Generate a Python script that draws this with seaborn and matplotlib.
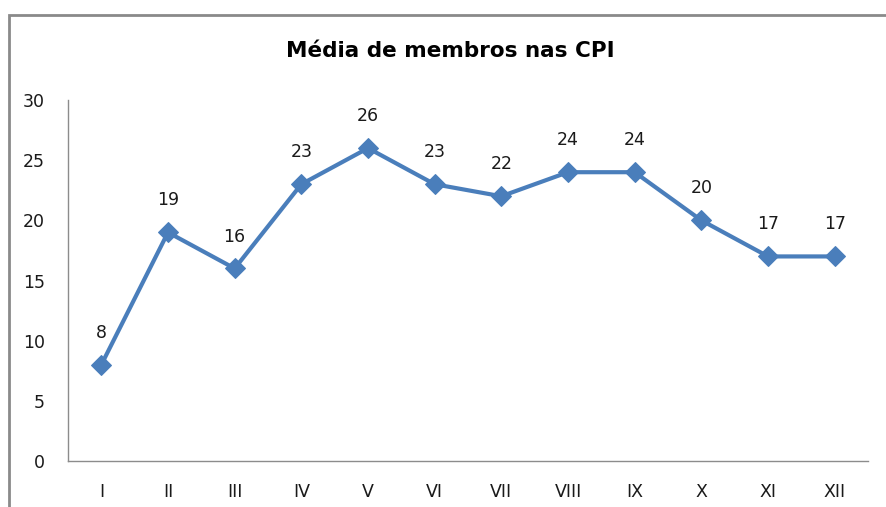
import matplotlib
matplotlib.use("Agg")
import matplotlib.pyplot as plt
import seaborn as sns
import pandas as pd
from matplotlib.patches import Rectangle

categorias = ["I", "II", "III", "IV", "V", "VI", "VII", "VIII", "IX", "X", "XI", "XII"]
media_membros = [8, 19, 16, 23, 26, 23, 22, 24, 24, 20, 17, 17]
titulo = "Média de membros nas CPI"

sns.set_style("white")
plt.rcParams["font.family"] = ["DejaVu Sans"]

df = pd.DataFrame({"cat": categorias, "valor": media_membros})
df["pos"] = range(len(df))

fig = plt.figure(figsize=(8.87, 5.07), dpi=100)
ax = fig.add_axes([68 / 887, 46 / 507, 800 / 887, 361 / 507])

cor = "#4A7EBB"
sns.lineplot(data=df, x="pos", y="valor", ax=ax, color=cor, linewidth=3,
             marker="D", markersize=10.5, markeredgecolor=cor)

for x, y in zip(df["pos"], df["valor"]):
    ax.annotate(str(y), (x, y), xytext=(0, 23), textcoords="offset points",
                ha="center", va="center", fontsize=12.5, color="#1a1a1a")

ax.set_xlim(-0.5, len(categorias) - 0.5)
ax.set_ylim(0, 30)
ax.set_yticks(range(0, 31, 5))
ax.set_xticks(df["pos"])
ax.set_xticklabels(categorias)
ax.tick_params(axis="both", length=0, labelsize=12.5, colors="#1a1a1a")
ax.tick_params(axis="y", pad=16.5)
ax.tick_params(axis="x", pad=16)
ax.set_xlabel("")
ax.set_ylabel("")
for s in ["top", "right"]:
    ax.spines[s].set_visible(False)
for s in ["left", "bottom"]:
    ax.spines[s].set_color("#8c8c8c")
    ax.spines[s].set_linewidth(1)

fig.text(450 / 887, 1 - 51 / 507, titulo, ha="center", va="center",
         fontsize=15.5, fontweight="bold", color="#000000")

# moldura do gráfico (cortada à direita e embaixo)
fig.patches.append(Rectangle((9 / 887, -0.1), 1.2, 1 - 15 / 507 + 0.1,
                             transform=fig.transFigure, fill=False,
                             edgecolor="#8a8a8a", linewidth=2))

plt.savefig("out.png", dpi=100)
plt.close()
